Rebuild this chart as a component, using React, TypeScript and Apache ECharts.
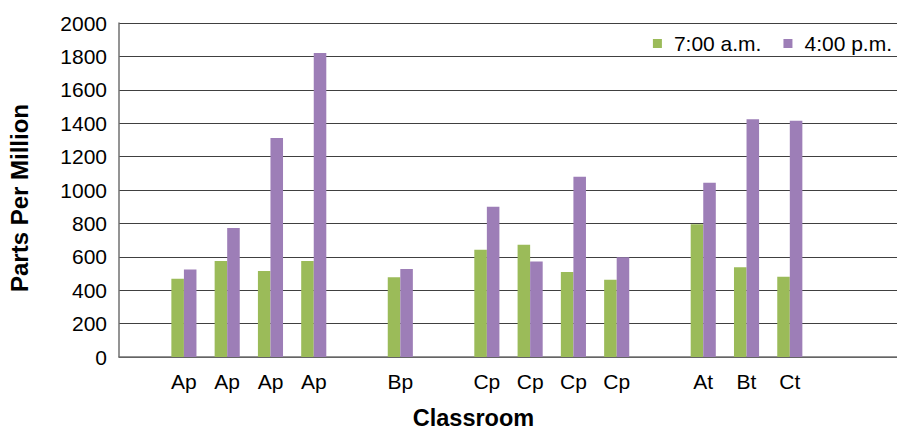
import React, { useEffect, useRef } from "react";
import * as echarts from "echarts";

const categories = ["", "Ap", "Ap", "Ap", "Ap", "", "Bp", "", "Cp", "Cp", "Cp", "Cp", "", "At", "Bt", "Ct", "", ""];
const morning = [null, 468, 575, 515, 575, null, 477, null, 642, 672, 509, 463, null, 795, 537, 481, null, null];
const afternoon = [null, 524, 773, 1311, 1820, null, 527, null, 899, 572, 1080, 597, null, 1044, 1424, 1415, null, null];
const seriesNames = ["7:00 a.m.", "4:00 p.m."];
const colors = ["#9BBB59", "#9D7EB7"];
const FONT = "Liberation Sans, Arial, sans-serif";

export default function App() {
  const ref = useRef<HTMLDivElement>(null);
  useEffect(() => {
    if (!ref.current) return;
    const chart = echarts.init(ref.current, null, { renderer: "svg" });
    chart.setOption({
      animation: false,
      textStyle: { fontFamily: FONT, color: "#000" },
      grid: { left: 119, top: 23, width: 779, height: 334, outerBoundsMode: "none", containLabel: false },
      legend: {
        right: 0,
        top: 28,
        itemWidth: 9,
        itemHeight: 9,
        itemGap: 22,
        icon: "rect",
        textStyle: { fontSize: 21, color: "#000", fontFamily: FONT, padding: [0, 0, 0, 7] },
        data: seriesNames,
      },
      xAxis: {
        type: "category",
        data: categories,
        name: "Classroom",
        nameLocation: "middle",
        nameGap: 51,
        nameTextStyle: {
          fontSize: 23.5,
          lineHeight: 20,
          fontWeight: "bold",
          color: "#000",
          fontFamily: FONT,
          padding: [0, 70, 0, 0],
        },
        axisLine: { lineStyle: { color: "#707070", width: 1.5 } },
        axisTick: { show: false },
        axisLabel: { fontSize: 21, color: "#000", margin: 14, interval: 0, fontFamily: FONT },
      },
      yAxis: {
        type: "value",
        min: 0,
        max: 2000,
        interval: 200,
        name: "Parts Per Million",
        nameLocation: "middle",
        nameGap: 88,
        nameTextStyle: {
          fontSize: 24,
          fontWeight: "bold",
          color: "#000",
          fontFamily: FONT,
          padding: [0, 16, 0, 0],
        },
        axisLine: { show: true, lineStyle: { color: "#707070", width: 1.5 } },
        axisTick: { show: false },
        axisLabel: { fontSize: 21, color: "#000", margin: 12, fontFamily: FONT, formatter: (v: number) => String(v) },
        splitLine: { lineStyle: { color: "#404040", width: 1 } },
      },
      series: [
        {
          name: seriesNames[0],
          type: "bar",
          data: morning,
          itemStyle: { color: colors[0] },
          barGap: "0%",
          barCategoryGap: "42%",
        },
        {
          name: seriesNames[1],
          type: "bar",
          data: afternoon,
          itemStyle: { color: colors[1] },
          barGap: "0%",
          barCategoryGap: "42%",
        },
      ],
    });
    return () => chart.dispose();
  }, []);
  return <div ref={ref} style={{ width: 897, height: 431, position: "absolute", left: 0, top: 0 }} />;
}
